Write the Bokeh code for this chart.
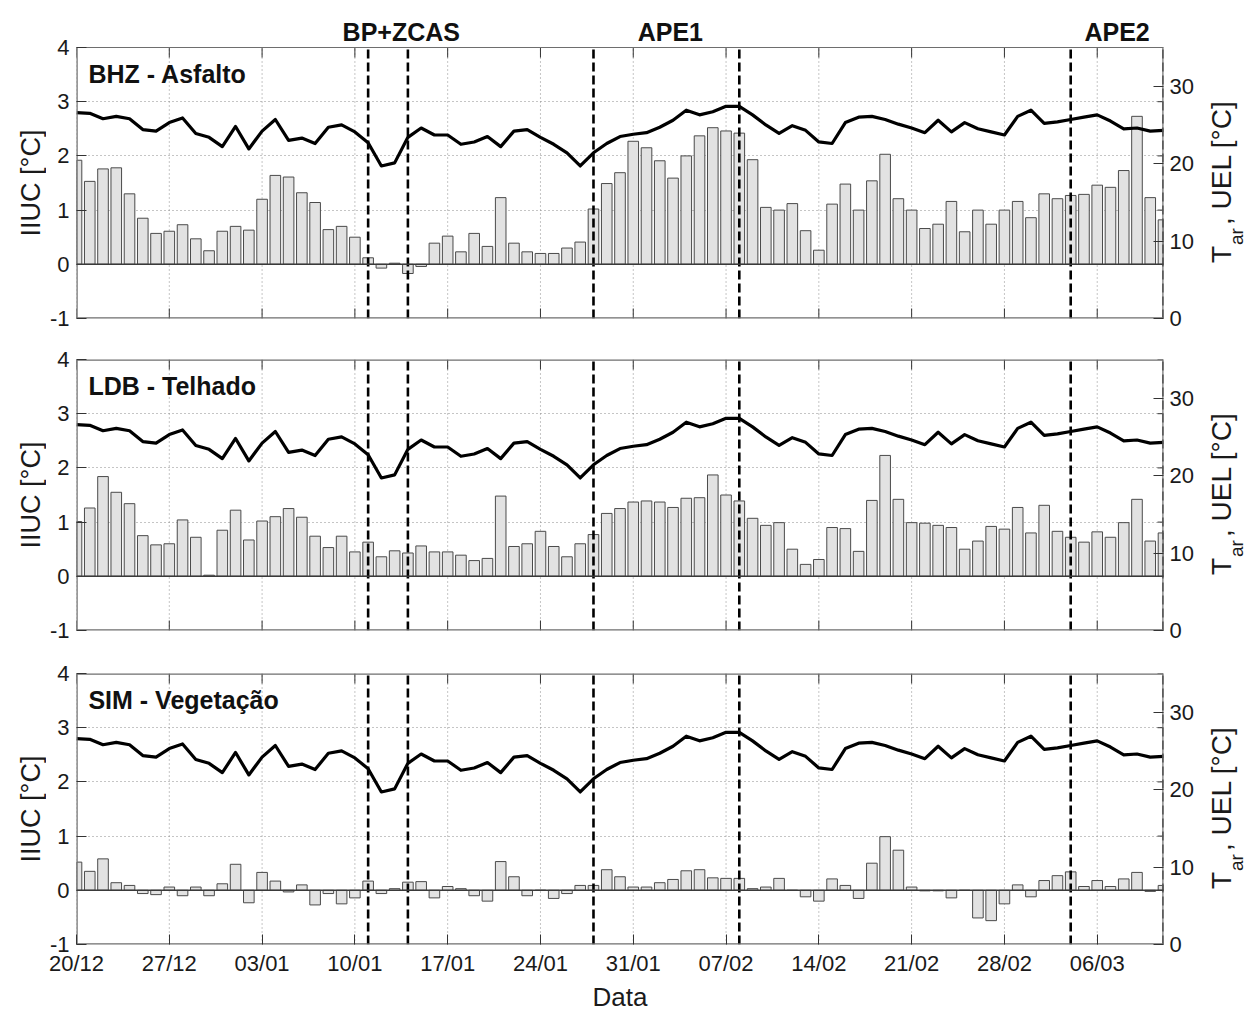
import math

import numpy as np
import pandas as pd
from bokeh.core.properties import value
from bokeh.embed import file_html
from bokeh.layouts import column, row
from bokeh.models import FixedTicker, LinearAxis, Range1d, Span
from bokeh.plotting import figure
from bokeh.resources import INLINE

# ---------------------------------------------------------------- data
START = "2011-12-20"
N_DAYS = 83
DATES = pd.date_range(START, periods=N_DAYS, freq="D")

# daily mean air temperature (right axis, °C)
TAR = [26.6, 26.5, 25.8, 26.1, 25.8, 24.4, 24.2, 25.3, 25.9, 23.9,
       23.4, 22.2, 24.8, 21.9, 24.2, 25.7, 23.0, 23.3, 22.6, 24.7,
       25.0, 24.1, 22.7, 19.7, 20.1, 23.4, 24.6, 23.7, 23.7, 22.5,
       22.8, 23.5, 22.2, 24.2, 24.4, 23.4, 22.5, 21.4, 19.7, 21.4,
       22.6, 23.5, 23.8, 24.0, 24.7, 25.6, 26.9, 26.3, 26.7, 27.4,
       27.4, 26.3, 25.0, 23.9, 24.9, 24.3, 22.8, 22.6, 25.3, 26.0,
       26.1, 25.7, 25.1, 24.6, 24.0, 25.6, 24.1, 25.3, 24.5, 24.1,
       23.7, 26.1, 26.9, 25.2, 25.4, 25.7, 26.0, 26.3, 25.5, 24.5,
       24.6, 24.2, 24.3]

# daily urban heat island intensity per station (left axis, °C)
IIUC_BHZ = [1.92, 1.53, 1.76, 1.78, 1.30, 0.85, 0.57, 0.61, 0.73, 0.47,
            0.25, 0.61, 0.70, 0.63, 1.20, 1.64, 1.61, 1.32, 1.14, 0.64,
            0.70, 0.50, 0.12, -0.07, 0.02, -0.17, -0.04, 0.39, 0.52, 0.23,
            0.57, 0.33, 1.23, 0.39, 0.23, 0.20, 0.20, 0.30, 0.41, 1.02,
            1.49, 1.69, 2.27, 2.15, 1.91, 1.59, 2.00, 2.37, 2.52, 2.46,
            2.42, 1.93, 1.05, 1.00, 1.12, 0.62, 0.26, 1.11, 1.48, 1.00,
            1.54, 2.03, 1.21, 1.00, 0.66, 0.74, 1.16, 0.60, 1.00, 0.74,
            1.00, 1.16, 0.86, 1.30, 1.21, 1.27, 1.29, 1.46, 1.42, 1.73,
            2.73, 1.23, 0.82]

IIUC_LDB = [1.01, 1.26, 1.84, 1.55, 1.34, 0.75, 0.58, 0.60, 1.04, 0.72,
            0.02, 0.85, 1.22, 0.67, 1.02, 1.10, 1.25, 1.09, 0.74, 0.53,
            0.74, 0.45, 0.63, 0.36, 0.47, 0.43, 0.56, 0.45, 0.45, 0.39,
            0.29, 0.33, 1.48, 0.55, 0.60, 0.83, 0.55, 0.36, 0.60, 0.77,
            1.16, 1.25, 1.37, 1.39, 1.37, 1.27, 1.44, 1.45, 1.87, 1.50,
            1.39, 1.07, 0.94, 0.99, 0.50, 0.22, 0.31, 0.90, 0.88, 0.46,
            1.40, 2.23, 1.42, 0.99, 0.98, 0.94, 0.90, 0.50, 0.65, 0.92,
            0.87, 1.27, 0.80, 1.31, 0.83, 0.72, 0.63, 0.82, 0.72, 0.99,
            1.42, 0.65, 0.80]

IIUC_SIM = [0.52, 0.35, 0.58, 0.14, 0.09, -0.06, -0.08, 0.06, -0.10, 0.06,
            -0.10, 0.12, 0.48, -0.23, 0.33, 0.17, -0.03, 0.10, -0.27, -0.06,
            -0.25, -0.14, 0.17, -0.06, 0.03, 0.15, 0.16, -0.14, 0.07, 0.03,
            -0.10, -0.20, 0.53, 0.25, -0.10, 0.00, -0.15, -0.06, 0.09, 0.09,
            0.38, 0.25, 0.06, 0.06, 0.14, 0.20, 0.36, 0.38, 0.23, 0.22,
            0.22, 0.03, 0.06, 0.22, 0.00, -0.12, -0.20, 0.21, 0.09, -0.15,
            0.50, 0.99, 0.74, 0.06, -0.01, -0.01, -0.14, 0.00, -0.51, -0.56,
            -0.25, 0.10, -0.12, 0.18, 0.27, 0.34, 0.07, 0.18, 0.07, 0.21,
            0.33, -0.02, 0.09]

STATIONS = ["BHZ - Asfalto", "LDB - Telhado", "SIM - Vegetação"]
SERIES = [IIUC_BHZ, IIUC_LDB, IIUC_SIM]

# synoptic episodes: name, first and last day
EVENT_NAMES = ["BP+ZCAS", "APE1", "APE2"]
EVENT_START = ["2012-01-11", "2012-01-28", "2012-03-04"]
EVENT_END = ["2012-01-14", "2012-02-08", "2012-03-11"]

LEFT_TICKS = [-1, 0, 1, 2, 3, 4]
RIGHT_TICKS = [0, 10, 20, 30]

# ---------------------------------------------------------------- layout / style
FONT = "Liberation Sans"
FW, FH = 1087, 271           # plot box size (px)
ML, MR = 75, 38              # left / right border of each panel (incl. strips)
LS = 46                      # strip holding the left axis title
SIDE_W = 1247 - ML - FW - MR  # strip holding the right-hand axis title
HEAD = 46                    # headroom above the first panel for episode names
TICK_PX = 10
EVENT_LABEL_DAY = [24.5, 44.8, 78.5]
Y_LO, Y_HI = -1, 4
X_LO, X_HI = 0, 82
T_HI = 35
BOX = "#6e6e6e"
INK = "#333333"

day = np.array([(d - DATES[0]).days for d in DATES], dtype=float)
tick_days = [float(v) for v in day[::7]]
tick_labels = [d.strftime("%d/%m") for d in DATES[::7]]


def to_day(s):
    return float((pd.Timestamp(s) - DATES[0]).days)


event_lines = sorted(set([to_day(s) for s in EVENT_START] + [to_day(s) for s in EVENT_END]))

x_range = Range1d(X_LO, X_HI)
upy = (Y_HI - Y_LO) / FH               # left-axis units per pixel
ty = TICK_PX * upy                     # tick length in left-axis units
tx = TICK_PX * (X_HI - X_LO) / FW      # tick length in day units


def style_axis(ax):
    ax.axis_line_color = None
    ax.major_tick_in = TICK_PX
    ax.major_tick_out = 0
    ax.minor_tick_line_color = None
    ax.major_tick_line_color = INK
    ax.major_tick_line_width = 1
    ax.major_label_text_font = FONT
    ax.major_label_text_font_size = "22px"
    ax.major_label_text_color = "#1a1a1a"
    ax.major_label_standoff = 7


def strip(width, top, bottom, head):
    s = figure(frame_width=width, frame_height=FH + head,
               min_border_left=0, min_border_right=0,
               min_border_top=top, min_border_bottom=bottom,
               x_range=Range1d(0, width), y_range=Range1d(0, FH + head),
               output_backend="svg", toolbar_location=None,
               x_axis_location=None, y_axis_location=None)
    s.outline_line_color = None
    s.grid.visible = False
    s.background_fill_color = "white"
    s.border_fill_color = "white"
    return s


def make_left(top, bottom, head=0):
    # left axis title: IIUC [°C]
    s = strip(LS, top, bottom, head)
    s.text(x=[30], y=[FH / 2], text=["IIUC [°C]"], angle=math.pi / 2,
           text_font=value(FONT), text_font_size="27px", text_color="#1a1a1a",
           text_baseline="middle", text_align="center")
    return s


def make_right(top, bottom, head=0):
    # right axis title: T_ar , UEL [°C]
    s = strip(SIDE_W, top, bottom, head)
    y0 = FH / 2 - 80
    xc = 1220 - (1247 - SIDE_W)   # centre line of the main title text
    common = dict(angle=math.pi / 2, text_font=value(FONT), text_color="#1a1a1a",
                  text_baseline="middle", text_align="left")
    s.text(x=[xc], y=[y0], text=["T"], text_font_size="28px", **common)
    s.text(x=[xc + 15], y=[y0 + 18], text=["ar"], text_font_size="19px", **common)
    s.text(x=[xc], y=[y0 + 38], text=[", UEL [°C]"], text_font_size="28px", **common)
    return s


def make_panel(idx, top, bottom, show_dates, head=0):
    # `head` extra pixels of frame above the plot box, used for episode names
    y_top = Y_HI + head * upy
    p = figure(frame_width=FW, frame_height=FH + head,
               min_border_left=ML - LS, min_border_right=MR,
               min_border_top=top, min_border_bottom=bottom,
               x_range=x_range, y_range=Range1d(Y_LO, y_top),
               output_backend="svg", toolbar_location=None,
               x_axis_location=None, y_axis_location=None)
    p.background_fill_color = "white"
    p.border_fill_color = "white"
    p.outline_line_color = None
    p.extra_y_ranges = {"t": Range1d(0, T_HI * (FH + head) / FH)}

    left = LinearAxis(ticker=FixedTicker(ticks=LEFT_TICKS), bounds=(Y_LO, Y_HI))
    style_axis(left)
    left.major_label_overrides = {-1: "-1"}
    p.add_layout(left, "left")

    right = LinearAxis(y_range_name="t", ticker=FixedTicker(ticks=RIGHT_TICKS),
                       bounds=(0, T_HI))
    style_axis(right)
    right.major_label_standoff = 6
    p.add_layout(right, "right")

    if show_dates:
        bottom_ax = LinearAxis(ticker=FixedTicker(ticks=tick_days))
        style_axis(bottom_ax)
        bottom_ax.major_label_overrides = {t: lab for t, lab in zip(tick_days, tick_labels)}
        bottom_ax.major_label_standoff = 6
        bottom_ax.axis_label = "Data"
        bottom_ax.axis_label_text_font = FONT
        bottom_ax.axis_label_text_font_size = "26px"
        bottom_ax.axis_label_text_font_style = "normal"
        bottom_ax.axis_label_text_color = "#1a1a1a"
        bottom_ax.axis_label_standoff = 3
        p.add_layout(bottom_ax, "below")

    n = len(tick_days)
    # dotted grid (vertical lines limited to the plot box)
    p.xgrid.visible = False
    p.segment(x0=tick_days, x1=tick_days, y0=[Y_LO] * n, y1=[Y_HI] * n,
              line_color="#8a8a8a", line_dash="1 3", line_width=1)
    p.ygrid.ticker = FixedTicker(ticks=LEFT_TICKS)
    p.ygrid.grid_line_color = "#8a8a8a"
    p.ygrid.grid_line_dash = "1 3"
    p.ygrid.grid_line_width = 1

    # ticks on the bottom (when unlabelled), top and right edges
    if not show_dates:
        p.segment(x0=tick_days, x1=tick_days, y0=[Y_LO] * n, y1=[Y_LO + ty] * n,
                  line_color=INK, line_width=1)
    p.segment(x0=tick_days, x1=tick_days, y0=[Y_HI] * n, y1=[Y_HI - ty] * n,
              line_color=INK, line_width=1)
    p.segment(x0=[X_HI] * len(LEFT_TICKS), x1=[X_HI - tx * 0.6] * len(LEFT_TICKS),
              y0=LEFT_TICKS, y1=LEFT_TICKS, line_color=INK, line_width=1)

    # bars, baseline, temperature line
    p.vbar(x=day, top=SERIES[idx], bottom=0, width=0.8,
           fill_color="#e2e2e2", line_color="#4a4a4a", line_width=1)
    p.add_layout(Span(location=0, dimension="width", line_color="#3a3a3a", line_width=1.4))
    p.line(day, TAR, y_range_name="t", line_color="black", line_width=3.2,
           line_join="round")

    # episode limits
    m = len(event_lines)
    p.segment(x0=event_lines, x1=event_lines, y0=[Y_LO] * m, y1=[Y_HI] * m,
              line_color="black", line_width=2.6, line_dash="9 4")

    # plot box: edges on the frame border are half clipped, so draw them wider
    p.segment(x0=[X_LO, X_LO, X_HI], x1=[X_HI, X_LO, X_HI],
              y0=[Y_LO, Y_LO, Y_LO], y1=[Y_LO, Y_HI, Y_HI],
              line_color=BOX, line_width=2.4)
    p.segment(x0=[X_LO], x1=[X_HI], y0=[Y_HI], y1=[Y_HI],
              line_color=BOX, line_width=1.2 if head else 2.4)

    # station name
    p.text(x=[X_LO + 0.9], y=[Y_HI - 26 * upy], text=[STATIONS[idx]],
           text_font=value(FONT), text_font_size="25px", text_font_style="bold",
           text_color="#111111", text_baseline="middle", text_align="left")

    if head:
        p.text(x=EVENT_LABEL_DAY, y=[Y_HI + (head - 30) * upy] * len(EVENT_NAMES),
               text=EVENT_NAMES, text_font=value(FONT), text_font_size="25px",
               text_font_style="bold", text_color="#111111",
               text_align="center", text_baseline="middle")
    return p


specs = [(0, 1, 20, False, HEAD), (1, 21, 21, False, 0), (2, 22, 65, True, 0)]
rows = []
for idx, top, bottom, show_dates, head in specs:
    rows.append(row(make_left(top, bottom, head),
                    make_panel(idx, top, bottom, show_dates, head),
                    make_right(top, bottom, head), spacing=0))

layout = column(*rows, spacing=0)
open("out.html", "w").write(file_html(layout, INLINE))
